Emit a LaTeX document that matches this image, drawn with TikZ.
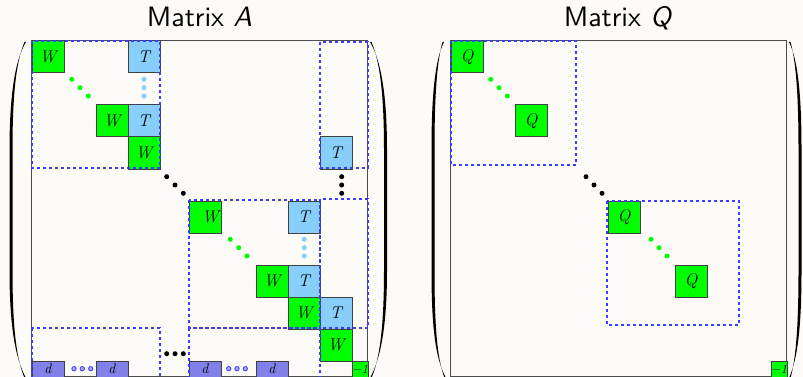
\documentclass[tikz,border=0pt]{standalone}
\usepackage{fontspec}
\newfontfamily\titlefont{lmsans10-regular.otf}[ItalicFont=lmsans10-oblique.otf]
\definecolor{bg}{RGB}{253,251,248}
\definecolor{wgreen}{RGB}{0,255,0}
\definecolor{tblue}{RGB}{135,206,250}
\definecolor{dblue}{RGB}{128,128,232}
\definecolor{partblue}{RGB}{60,60,255}
\begin{document}
\begin{tikzpicture}[x=1pt,y=-1pt,
  blk/.style={draw=black!75, line width=0.8pt, inner sep=0pt, anchor=north west,
    minimum width=32pt, minimum height=32pt, font=\fontsize{17}{17}\selectfont\itshape},
  wblk/.style={blk, fill=wgreen},
  tblk/.style={blk, fill=tblue},
  dblk/.style={blk, fill=dblue, minimum height=16.5pt, font=\fontsize{14}{14}\selectfont\itshape},
  iblk/.style={blk, fill=wgreen, minimum width=16pt, minimum height=16.5pt,
    font=\fontsize{13}{13}\selectfont\itshape},
  part/.style={draw=partblue, dashed, line width=1.2pt},
  frame/.style={draw=black!70, line width=1.2pt},
  title/.style={font=\fontsize{28}{28}\selectfont\titlefont, anchor=base},
]
\fill[bg] (0,0) rectangle (803,377);
\useasboundingbox (0,0) rectangle (803,377);

% ---------- Matrix A ----------
\node[title] (titleA) at (199.5,26.7) {Matrix \textit{A}};
\draw[frame] (31.5,40.5) rectangle (367.5,376.5);

% first diagonal block
\node[wblk] (w1) at (31.5,40.5) {W};
\node[tblk] (t1) at (127.5,40.5) {T};
\node[wblk] (w2) at (95.5,104.5) {W};
\node[tblk] (t2) at (127.5,104.5) {T};
\node[wblk] (w3) at (127.5,136.5) {W};
\node[tblk] (t3) at (319.5,136.5) {T};
% second diagonal block
\node[wblk] (w4) at (188.5,200.5) {\hspace*{11pt}W};
\node[tblk] (t4) at (287.5,200.5) {T};
\node[wblk] (w5) at (255.5,264.5) {W};
\node[tblk] (t5) at (287.5,264.5) {T};
\node[wblk] (w6) at (287.5,296.5) {W};
\node[tblk] (t6) at (319.5,296.5) {T};
\node[wblk] (w7) at (319.5,328.5) {W};
\node[iblk] (i1) at (351.5,360.5) {−1};
% bottom row
\node[dblk] (d1) at (31.5,360.5) {d};
\node[dblk] (d2) at (95.5,360.5) {d};
\node[dblk] (d3) at (188.5,360.5) {d};
\node[dblk] (d4) at (255.5,360.5) {d};

% ellipses
\foreach \x/\y in {71.7/79.3, 80/87.7, 88.3/96, 230.3/239.3, 238.7/247.7, 247/256}
  \fill[wgreen] (\x,\y) circle (2.5);
\foreach \x/\y in {144/79.3, 144/87.7, 144/96, 304.3/239.3, 304.3/247.7, 304.3/256}
  \fill[tblue] (\x,\y) circle (2.5);
\foreach \x/\y in {166.7/176.7, 175/185, 183.3/193.3, 341.7/176.7, 341.7/185, 341.7/193.3,
                   166.7/353.7, 175/353.7, 183.3/353.7}
  \fill[black] (\x,\y) circle (2.5);
\foreach \x in {74, 82.3, 90.7, 228.7, 237, 245.3}
  \filldraw[draw=partblue, fill=partblue!45, line width=0.8pt] (\x,368.7) circle (2.2);

% block partition
\draw[part] (32,41) rectangle (160,168);
\draw[part] (320,42) rectangle (368,168);
\draw[part] (189,200) rectangle (320,328);
\draw[part] (320,199) rectangle (368,328);
\draw[part] (32,328) rectangle (160,378);
\draw[part] (189,328) rectangle (320,378);

% parentheses
\fill (26,42) .. controls (15,60) and (9.5,95) .. (9.5,150) -- (9.5,270)
  .. controls (9.5,325) and (15,358) .. (26,378) -- (24.5,378)
  .. controls (16,358) and (12.5,325) .. (12.5,270) -- (12.5,150)
  .. controls (12.5,95) and (16,62) .. (24.5,42) -- cycle;
\fill (370,42) .. controls (381,60) and (387,95) .. (387,150) -- (387,270)
  .. controls (387,325) and (381,358) .. (370,378) -- (371.5,378)
  .. controls (380,358) and (384,325) .. (384,270) -- (384,150)
  .. controls (384,95) and (380,62) .. (371.5,42) -- cycle;

% ---------- Matrix Q ----------
\node[title] (titleQ) at (618.2,26.7) {Matrix \textit{Q}};
\draw[frame] (450.5,40.5) rectangle (786.5,376.5);
\node[wblk] (q1) at (450.5,40.5) {Q};
\node[wblk] (q2) at (514.5,104.5) {Q};
\node[wblk] (q3) at (607.5,200.5) {Q};
\node[wblk] (q4) at (674.5,264.5) {Q};
\node[iblk] (i2) at (770.5,360.5) {−1};
\foreach \x/\y in {490.7/79.3, 499/87.7, 507.3/96, 651/239.3, 659/247.7, 667/256}
  \fill[wgreen] (\x,\y) circle (2.5);
\foreach \x/\y in {586/176.7, 594/185, 602/193.3}
  \fill[black] (\x,\y) circle (2.5);
\draw[part] (451,41) rectangle (576,165);
\draw[part] (607,201) rectangle (739,325);

\fill (444,42) .. controls (435,60) and (431.5,95) .. (431.5,150) -- (431.5,270)
  .. controls (431.5,325) and (435,358) .. (446,378) -- (444.5,378)
  .. controls (437,358) and (434.5,325) .. (434.5,270) -- (434.5,150)
  .. controls (434.5,95) and (437,62) .. (442.5,42) -- cycle;
\fill (789,42) .. controls (798,60) and (801.5,95) .. (801.5,150) -- (801.5,270)
  .. controls (801.5,325) and (798,358) .. (789,378) -- (790.5,378)
  .. controls (796,358) and (798.5,325) .. (798.5,270) -- (798.5,150)
  .. controls (798.5,95) and (796,62) .. (790.5,42) -- cycle;
\end{tikzpicture}
\end{document}
